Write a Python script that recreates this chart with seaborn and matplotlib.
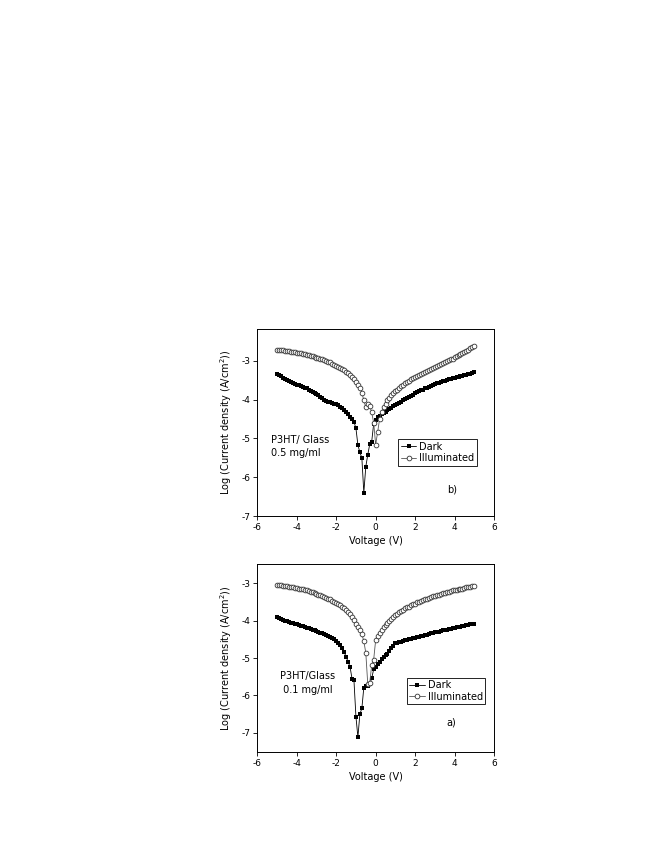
import numpy as np
import seaborn as sns
import matplotlib.pyplot as plt
from matplotlib.lines import Line2D

# Data

voltage = np.linspace(-5, 5, 101)

# b) 0.5 mg/ml
dark_b = [-3.34, -3.37, -3.40, -3.43, -3.46, -3.50, -3.53, -3.55, -3.57, -3.59,
          -3.61, -3.63, -3.65, -3.67, -3.69, -3.71, -3.74, -3.77, -3.80, -3.83,
          -3.86, -3.89, -3.92, -3.95, -4.00, -4.03, -4.05, -4.07, -4.09, -4.12,
          -4.11, -4.14, -4.18, -4.22, -4.27, -4.33, -4.38, -4.44, -4.50, -4.57,
          -4.74, -5.17, -5.36, -5.50, -6.40, -5.73, -5.42, -5.15, -5.08, -4.62,
          -4.52, -4.45, -4.42, -4.38, -4.34, -4.31, -4.28, -4.24, -4.21, -4.17,
          -4.14, -4.11, -4.08, -4.05, -4.02, -3.99, -3.96, -3.93, -3.90, -3.87,
          -3.84, -3.81, -3.79, -3.76, -3.74, -3.71, -3.69, -3.67, -3.64, -3.62,
          -3.60, -3.58, -3.56, -3.55, -3.53, -3.51, -3.50, -3.48, -3.47, -3.45,
          -3.44, -3.42, -3.41, -3.40, -3.38, -3.37, -3.36, -3.34, -3.33, -3.31,
          -3.30]
illum_b = [-2.71, -2.71, -2.72, -2.73, -2.74, -2.74, -2.75, -2.76, -2.77, -2.78,
           -2.79, -2.80, -2.81, -2.82, -2.83, -2.84, -2.86, -2.87, -2.88, -2.90,
           -2.92, -2.93, -2.95, -2.96, -2.98, -3.00, -3.02, -3.04, -3.07, -3.10,
           -3.13, -3.15, -3.18, -3.21, -3.24, -3.28, -3.32, -3.36, -3.41, -3.47,
           -3.54, -3.62, -3.71, -3.82, -4.02, -4.20, -4.10, -4.17, -4.33, -4.60,
           -5.16, -4.84, -4.50, -4.32, -4.20, -4.10, -4.02, -3.95, -3.89, -3.84,
           -3.79, -3.74, -3.70, -3.66, -3.62, -3.58, -3.55, -3.51, -3.48, -3.45,
           -3.42, -3.39, -3.36, -3.34, -3.31, -3.29, -3.26, -3.24, -3.21, -3.19,
           -3.16, -3.14, -3.11, -3.09, -3.06, -3.04, -3.01, -2.99, -2.96, -2.94,
           -2.91, -2.88, -2.85, -2.82, -2.79, -2.76, -2.74, -2.71, -2.68, -2.65,
           -2.62]

# a) 0.1 mg/ml
dark_a = [-3.90, -3.93, -3.96, -3.98, -4.00, -4.02, -4.04, -4.06, -4.07, -4.09,
          -4.10, -4.12, -4.14, -4.15, -4.17, -4.19, -4.20, -4.22, -4.24, -4.26,
          -4.28, -4.30, -4.32, -4.34, -4.36, -4.38, -4.40, -4.43, -4.46, -4.50,
          -4.55, -4.60, -4.66, -4.74, -4.84, -4.96, -5.10, -5.23, -5.55, -5.60,
          -6.57, -7.12, -6.50, -6.35, -5.79, -5.76, -5.74, -5.70, -5.54, -5.30,
          -5.23, -5.15, -5.10, -5.02, -4.97, -4.92, -4.88, -4.80, -4.74, -4.67,
          -4.61, -4.59, -4.57, -4.56, -4.54, -4.53, -4.51, -4.50, -4.48, -4.47,
          -4.46, -4.44, -4.43, -4.41, -4.40, -4.38, -4.37, -4.35, -4.34, -4.32,
          -4.31, -4.30, -4.29, -4.27, -4.26, -4.25, -4.24, -4.23, -4.21, -4.20,
          -4.19, -4.18, -4.17, -4.16, -4.14, -4.13, -4.12, -4.11, -4.10, -4.09,
          -4.08]
illum_a = [-3.04, -3.05, -3.05, -3.06, -3.07, -3.08, -3.09, -3.10, -3.11, -3.12,
           -3.13, -3.14, -3.15, -3.16, -3.18, -3.19, -3.21, -3.22, -3.24, -3.26,
           -3.28, -3.30, -3.32, -3.34, -3.36, -3.38, -3.41, -3.43, -3.46, -3.49,
           -3.52, -3.55, -3.58, -3.62, -3.66, -3.71, -3.76, -3.82, -3.90, -3.99,
           -4.09, -4.17, -4.25, -4.36, -4.55, -4.86, -5.70, -5.66, -5.19, -5.04,
           -4.52, -4.40, -4.32, -4.25, -4.18, -4.12, -4.06, -4.00, -3.95, -3.90,
           -3.85, -3.81, -3.78, -3.74, -3.70, -3.67, -3.64, -3.62, -3.59, -3.56,
           -3.54, -3.51, -3.49, -3.47, -3.45, -3.43, -3.41, -3.39, -3.37, -3.35,
           -3.33, -3.31, -3.30, -3.28, -3.27, -3.25, -3.24, -3.22, -3.21, -3.19,
           -3.18, -3.17, -3.16, -3.15, -3.14, -3.12, -3.11, -3.10, -3.09, -3.08,
           -3.07]

x_ticks = [-6, -4, -2, 0, 2, 4, 6]
y_ticks = [-7, -6, -5, -4, -3]

sns.set_style("ticks")
plt.rcParams['font.family'] = ['DejaVu Sans']
plt.rcParams['font.size'] = 6.5
plt.rcParams['axes.unicode_minus'] = False
for key in ['text.color', 'axes.labelcolor', 'xtick.color', 'ytick.color', 'axes.edgecolor']:
    plt.rcParams[key] = 'black'


def draw_panel(ax, dark, illum, sq_size, ylim, note, note_xy, tag, tag_xy, leg_xy):
    sns.lineplot(x=voltage, y=dark, ax=ax, color='black', lw=0.6, marker='s',
                 markersize=sq_size, markeredgewidth=0, markerfacecolor='black')
    sns.lineplot(x=voltage, y=illum, ax=ax, color='#555555', lw=0.6, marker='o',
                 markersize=3.4, markeredgewidth=0.6, markerfacecolor='white',
                 markeredgecolor='#333333')
    ax.set_xlim(-6, 6)
    ax.set_ylim(*ylim)
    ax.set_xticks(x_ticks)
    ax.set_yticks(y_ticks)
    ax.tick_params(direction='out', length=3, width=0.6, labelsize=6.5, pad=2)
    for s in ax.spines.values():
        s.set_linewidth(0.7)
        s.set_visible(True)
    ax.set_xlabel("Voltage (V)", fontsize=7, labelpad=3)
    ax.set_ylabel("Log (Current density (A/cm$^2$))", fontsize=7, labelpad=5)
    ax.text(note_xy[0], note_xy[1], note, fontsize=7, va='center', ha='left',
            linespacing=1.4)
    ax.text(tag_xy[0], tag_xy[1], tag, fontsize=7, va='center', ha='center')
    handles = [
        Line2D([], [], color='black', lw=0.6, marker='s', markersize=sq_size,
               markeredgewidth=0, markerfacecolor='black'),
        Line2D([], [], color='#555555', lw=0.6, marker='o', markersize=3.4,
               markeredgewidth=0.6, markerfacecolor='white', markeredgecolor='#333333'),
    ]
    ax.legend(handles, ["Dark", "Illuminated"], loc='upper left',
              bbox_to_anchor=leg_xy, fontsize=7, frameon=True, fancybox=False,
              edgecolor='black', framealpha=1, handlelength=1.6, handletextpad=0.3,
              borderpad=0.25, labelspacing=0.15, borderaxespad=0)
    ax.get_legend().get_frame().set_linewidth(0.6)


fig = plt.figure(figsize=(6.64, 8.6), dpi=100)
ax_b = fig.add_axes([0.3875, 0.4, 0.3565, 0.2174])
ax_a = fig.add_axes([0.3875, 0.1259, 0.3565, 0.2179])

draw_panel(ax_b, dark_b, illum_b, 3.2, (-7, -2.18), "P3HT/ Glass\n0.5 mg/ml",
           (-5.32, -5.2), "b)", (3.89, -6.32), (0.596, 0.41))
draw_panel(ax_a, dark_a, illum_a, 2.6, (-7.51, -2.49), "P3HT/Glass\n 0.1 mg/ml",
           (-4.85, -5.67), "a)", (3.84, -6.74), (0.631, 0.395))

fig.savefig("out.png", dpi=100)
